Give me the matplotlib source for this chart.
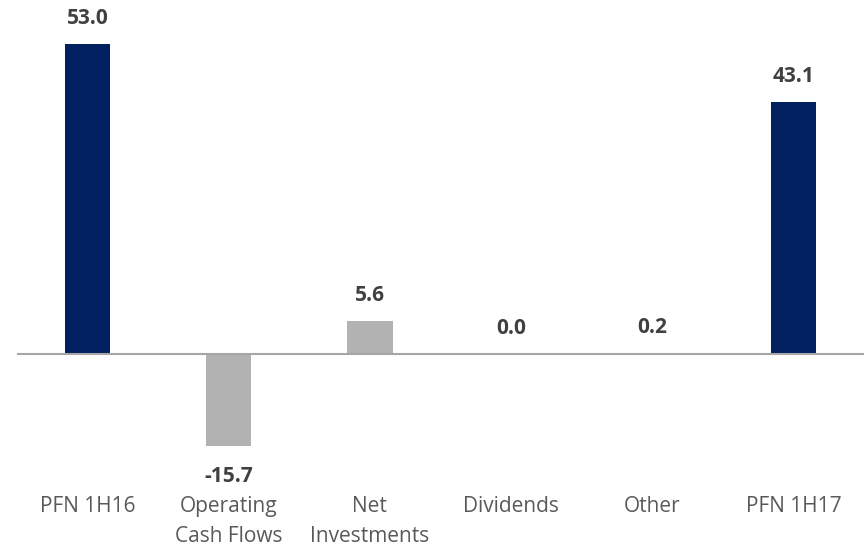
import matplotlib
matplotlib.use("Agg")
import matplotlib.pyplot as plt

categories = ["PFN 1H16", "Operating\nCash Flows", "Net\nInvestments", "Dividends", "Other", "PFN 1H17"]
values = [53.0, -15.7, 5.6, 0.0, 0.2, 43.1]
labels = ["53.0", "-15.7", "5.6", "0.0", "0.2", "43.1"]
colors = ["#002060", "#B2B2B2", "#B2B2B2", "#B2B2B2", "#B2B2B2", "#002060"]

plt.rcParams['font.family'] = ['Open Sans', 'DejaVu Sans']

W, H = 864, 546
fig = plt.figure(figsize=(W / 100, H / 100), dpi=100)
top_px, bot_px = 20, 460
left_px, right_px = 17, 864
ax = fig.add_axes([left_px / W, (H - bot_px) / H, (right_px - left_px) / W, (bot_px - top_px) / H])

zero_px = 354
scale = 5.85
ax.set_ylim(-(bot_px - zero_px) / scale, (zero_px - top_px) / scale)
ax.set_xlim(-0.5, 5.5)

x = list(range(len(categories)))
ax.bar(x, values, width=0.32, color=colors, zorder=2)
ax.axhline(0, color="#A6A6A6", linewidth=1.5, zorder=3)

for xi, v, lab in zip(x, values, labels):
    if v >= 0:
        ax.annotate(lab, (xi, v), xytext=(0, 18.5), textcoords="offset points",
                    ha="center", va="center", fontsize=15, fontweight="bold", color="#404040")
    else:
        ax.annotate(lab, (xi, v), xytext=(0, -22), textcoords="offset points",
                    ha="center", va="center", fontsize=15, fontweight="bold", color="#404040")

ax.set_xticks(x)
ax.set_xticklabels(categories, fontsize=15, color="#595959", linespacing=1.55)
ax.tick_params(axis="x", length=0, pad=26)
ax.set_yticks([])
for s in ax.spines.values():
    s.set_visible(False)

fig.savefig("out.png", dpi=100)
